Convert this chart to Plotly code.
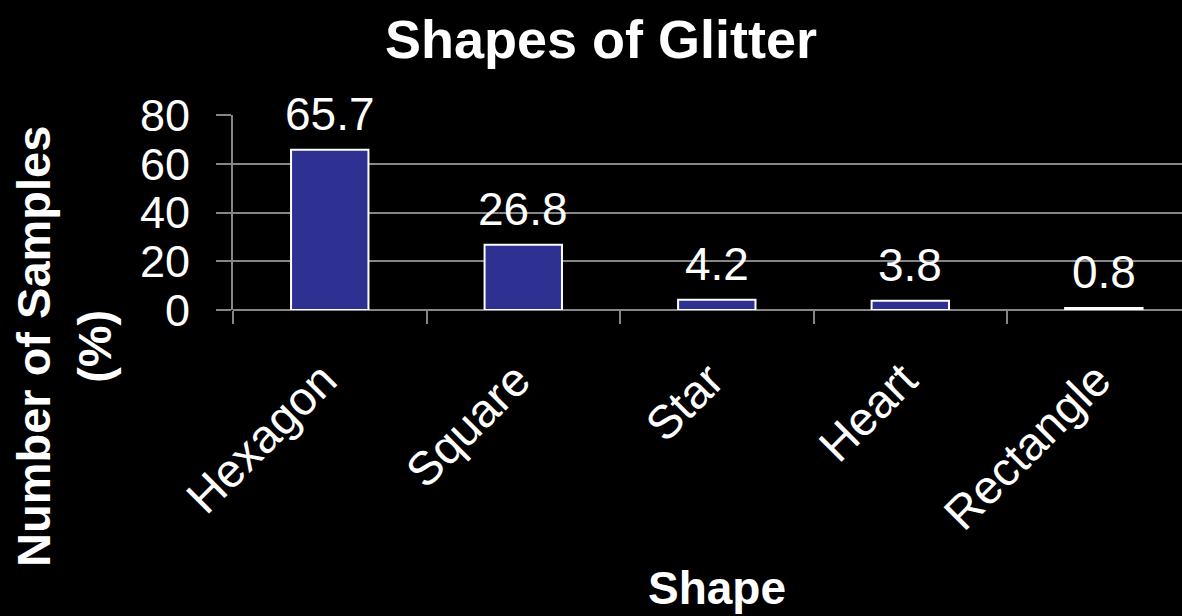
import plotly.graph_objects as go

# Glitter shape survey results
shapes = ["Hexagon", "Square", "Star", "Heart", "Rectangle"]
percent = [65.7, 26.8, 4.2, 3.8, 0.8]
y_ticks = [0, 20, 40, 60, 80]

FONT = "Liberation Sans, Arial, sans-serif"
GRID = "#868686"

# plot-area geometry in pixels (used to place paper-referenced text)
W, H = 1182, 616
L, R, T, B = 233, 0, 115, 306
PW, PH = W - L - R, H - T - B


def px(x):
    return (x - L) / PW


def py(y):
    return (H - B - y) / PH


fig = go.Figure(
    go.Bar(
        x=shapes,
        y=percent,
        width=0.4,
        marker=dict(color="#2E3192", line=dict(color="white", width=2)),
        hoverinfo="x+y",
    )
)

# value labels above each bar
for s, v in zip(shapes, percent):
    fig.add_annotation(
        x=s, y=v, xref="x", yref="y",
        text=f"{v}", showarrow=False,
        yanchor="bottom", yshift=8,
        font=dict(family=FONT, size=46, color="white"),
    )

# chart title
fig.add_annotation(
    x=px(601), y=py(39), xref="paper", yref="paper",
    xanchor="center", yanchor="middle",
    text="<b>Shapes of Glitter</b>", showarrow=False,
    font=dict(family=FONT, size=54, color="white"),
)

# x-axis title
fig.add_annotation(
    x=px(717), y=py(588), xref="paper", yref="paper",
    xanchor="center", yanchor="middle",
    text="<b>Shape</b>", showarrow=False,
    font=dict(family=FONT, size=46, color="white"),
)

# y-axis title
fig.add_annotation(
    x=px(64), y=py(347), xref="paper", yref="paper",
    text="<b>Number of Samples<br>(%)</b>", showarrow=False,
    textangle=-90, xanchor="center", yanchor="middle",
    font=dict(family=FONT, size=47, color="white"),
)

fig.update_layout(
    width=W, height=H,
    paper_bgcolor="black", plot_bgcolor="black",
    margin=dict(l=L, r=R, t=T, b=B),
    showlegend=False,
    font=dict(family=FONT, color="white"),
    xaxis=dict(
        range=[-0.5, 4.404],
        tickson="boundaries",
        ticks="outside", ticklen=13, tickwidth=2, tickcolor=GRID,
        showline=False, showgrid=False,
        tickangle=-45,
        ticklabelstandoff=32,
        ticklabelshift=-7,
        tickfont=dict(family=FONT, size=47, color="white"),
    ),
    yaxis=dict(
        range=[0, 80],
        tickvals=y_ticks,
        ticks="outside", ticklen=15, tickwidth=2, tickcolor=GRID,
        showline=True, linecolor=GRID, linewidth=2,
        showgrid=True, gridcolor=GRID, gridwidth=2,
        zeroline=True, zerolinecolor=GRID, zerolinewidth=2,
        tickfont=dict(family=FONT, size=45, color="white"),
        ticklabelstandoff=17,
    ),
)

fig.write_html("out.html")
